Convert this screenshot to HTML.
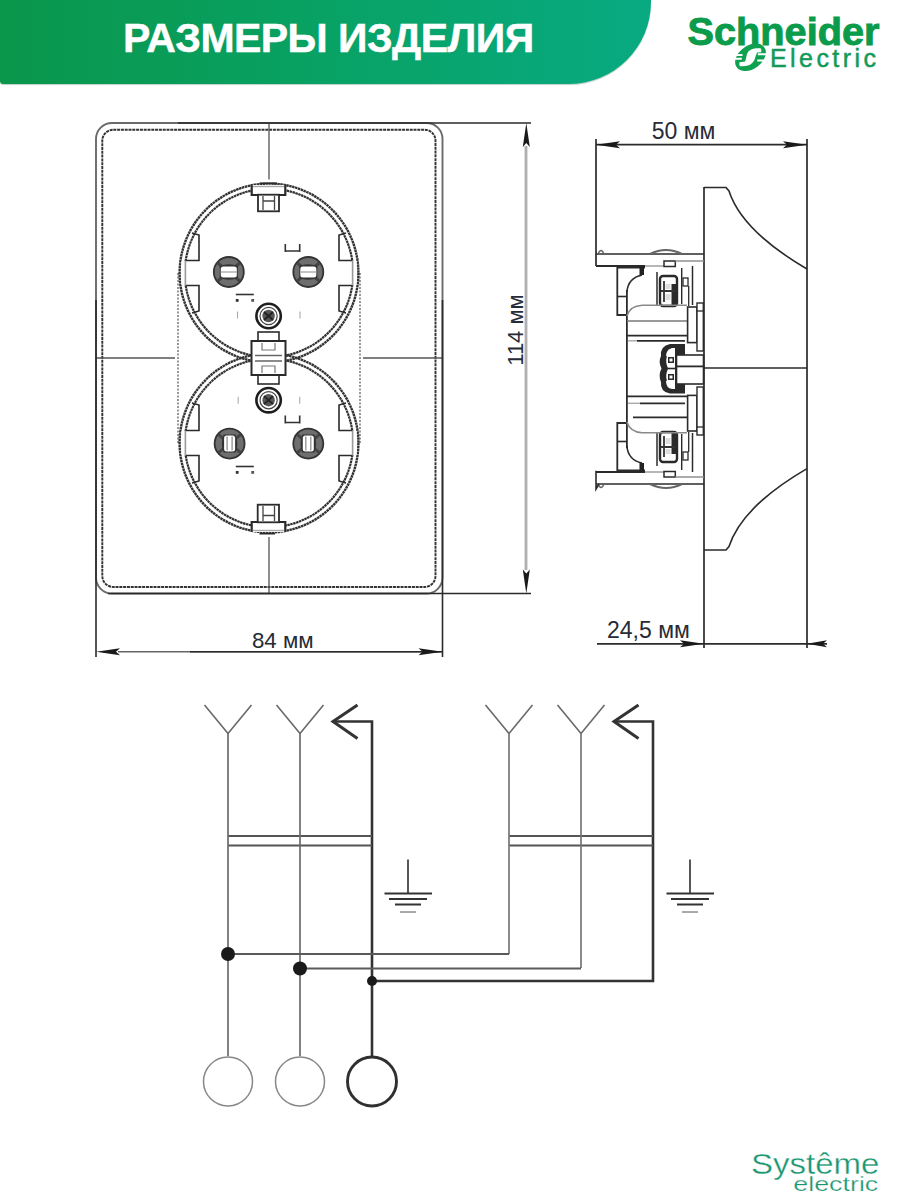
<!DOCTYPE html>
<html><head><meta charset="utf-8">
<style>
html,body{margin:0;padding:0;background:#fff;}
body{width:900px;height:1200px;position:relative;overflow:hidden;font-family:"Liberation Sans",sans-serif;}
.banner{position:absolute;left:0;top:0;width:651px;height:84px;border-bottom-right-radius:82px;border-bottom-left-radius:3px;
background:linear-gradient(90deg,#0a964b 0%,#08a264 50%,#08aa82 100%);box-shadow:0 1px 1px rgba(0,60,30,0.25);}
.banner span{position:absolute;left:123px;top:13.3px;font-family:"Liberation Sans",sans-serif;font-weight:bold;font-size:41px;line-height:50px;color:#fff;white-space:nowrap;letter-spacing:-0.55px;-webkit-text-stroke:0.45px #fff;}
svg{position:absolute;left:0;top:0;}
</style></head>
<body>
<div class="banner"><span>РАЗМЕРЫ ИЗДЕЛИЯ</span></div>
<svg width="900" height="1200" viewBox="0 0 900 1200">
<g id="front"><rect x="96" y="123" width="346.5" height="470.5" rx="16" ry="16" fill="none" stroke="#6a6a6a" stroke-width="1.9"/><rect x="102.3" y="129.7" width="333.2" height="457.3" rx="11" ry="11" fill="none" stroke="#333" stroke-width="1.9" stroke-dasharray="3 0.8"/><path d="M269 123V179.5 M269 537V593 M96 358H175 M363 358H442" stroke="#555" stroke-width="1.3" fill="none"/><path d="M178 273V443 M360 273V443" stroke="#444" stroke-width="1.1" stroke-dasharray="2 1.5" fill="none"/><circle cx="269" cy="273" r="89.4" fill="none" stroke="#333" stroke-width="2.4" stroke-dasharray="2.5 0.5"/><circle cx="269" cy="273" r="84.2" fill="none" stroke="#333" stroke-width="2.2" stroke-dasharray="2.5 0.5"/><circle cx="269" cy="443" r="89.4" fill="none" stroke="#333" stroke-width="2.4" stroke-dasharray="2.5 0.5"/><circle cx="269" cy="443" r="84.2" fill="none" stroke="#333" stroke-width="2.2" stroke-dasharray="2.5 0.5"/><rect x="181.4" y="261" width="6" height="24" fill="#fff"/><path d="M192 233 L199 235 L199 260.5 L185.5 260.5 M185.5 285.5 L199 285.5 L199 311 L192 313" fill="none" stroke="#2a2a2a" stroke-width="1.6"/><path d="M185.4 260.5V285.5" stroke="#999" stroke-width="1.6"/><rect x="350.6" y="261" width="6" height="24" fill="#fff"/><path d="M346 233 L339 235 L339 260.5 L352.5 260.5 M352.5 285.5 L339 285.5 L339 311 L346 313" fill="none" stroke="#2a2a2a" stroke-width="1.6"/><path d="M352.6 260.5V285.5" stroke="#999" stroke-width="1.6"/><rect x="181.4" y="431" width="6" height="24" fill="#fff"/><path d="M192 403 L199 405 L199 430.5 L185.5 430.5 M185.5 455.5 L199 455.5 L199 481 L192 483" fill="none" stroke="#2a2a2a" stroke-width="1.6"/><path d="M185.4 430.5V455.5" stroke="#999" stroke-width="1.6"/><rect x="350.6" y="431" width="6" height="24" fill="#fff"/><path d="M346 403 L339 405 L339 430.5 L352.5 430.5 M352.5 455.5 L339 455.5 L339 481 L346 483" fill="none" stroke="#2a2a2a" stroke-width="1.6"/><path d="M352.6 430.5V455.5" stroke="#999" stroke-width="1.6"/><rect x="258" y="332" width="21" height="52" fill="#fff" stroke="#2b2b2b" stroke-width="1.6"/><rect x="251.5" y="341" width="34" height="34" fill="#fff" stroke="#2b2b2b" stroke-width="2"/><path d="M255 355.5H282 M255 361H282" stroke="#666" stroke-width="1.3"/><path d="M262 343V350H275V343 M262 373V366H275V373" stroke="#777" stroke-width="1.2" fill="none"/><rect x="251.5" y="185" width="34" height="10" fill="#fff" stroke="none"/><path d="M251.7 185V195H285.3V185" fill="none" stroke="#2a2a2a" stroke-width="2.2"/><path d="M253 186.5H284" stroke="#aaa" stroke-width="1.4"/><path d="M259.5 183.3H277" stroke="#2b2b2b" stroke-width="1.6"/><rect x="258" y="194.7" width="21" height="16.6" fill="#fff" stroke="#2b2b2b" stroke-width="1.8"/><path d="M263 196V210 M274.5 196V210 M263 201H274.5" stroke="#444" stroke-width="1.3" fill="none"/><rect x="251.5" y="522" width="34" height="10" fill="#fff" stroke="none"/><path d="M251.7 532V522H285.3V532" fill="none" stroke="#2a2a2a" stroke-width="2.2"/><path d="M253 530.5H284" stroke="#aaa" stroke-width="1.4"/><path d="M259.5 533.7H275" stroke="#2b2b2b" stroke-width="1.6"/><rect x="257.7" y="504.7" width="21.3" height="17.6" fill="#fff" stroke="#2b2b2b" stroke-width="1.8"/><path d="M263 506V521 M274.5 506V521 M263 515.5H274.5" stroke="#444" stroke-width="1.3" fill="none"/><circle cx="228.8" cy="272" r="15" fill="#6e6e6e" stroke="#333" stroke-width="1.8"/><path d="M217.8 263 L239.8 281 M217.8 281 L239.8 263" stroke="#444" stroke-width="3"/><path d="M219.8 266 Q228.8 262.5 237.8 266 V278 Q228.8 281.5 219.8 278Z" fill="#333"/><rect x="220.8" y="266.5" width="16" height="11" rx="2.5" fill="#fff"/><path d="M220.8 272H236.8" stroke="#b5b5b5" stroke-width="1.6"/><circle cx="308.3" cy="272" r="15" fill="#6e6e6e" stroke="#333" stroke-width="1.8"/><path d="M297.3 263 L319.3 281 M297.3 281 L319.3 263" stroke="#444" stroke-width="3"/><path d="M299.3 266 Q308.3 262.5 317.3 266 V278 Q308.3 281.5 299.3 278Z" fill="#333"/><rect x="300.3" y="266.5" width="16" height="11" rx="2.5" fill="#fff"/><path d="M300.3 272H316.3" stroke="#b5b5b5" stroke-width="1.6"/><circle cx="229.6" cy="443.6" r="15" fill="#6e6e6e" stroke="#333" stroke-width="1.8"/><path d="M218.6 434.6 L240.6 452.6 M218.6 452.6 L240.6 434.6" stroke="#444" stroke-width="3"/><path d="M223.6 434.6 Q220.1 443.6 223.6 452.6 H235.6 Q239.1 443.6 235.6 434.6Z" fill="#333"/><rect x="224.1" y="435.6" width="11" height="16" rx="2.5" fill="#fff"/><path d="M227.1 436.6V450.6 M232.1 436.6V450.6" stroke="#999" stroke-width="1.4"/><circle cx="308.3" cy="443.6" r="15" fill="#6e6e6e" stroke="#333" stroke-width="1.8"/><path d="M297.3 434.6 L319.3 452.6 M297.3 452.6 L319.3 434.6" stroke="#444" stroke-width="3"/><path d="M302.3 434.6 Q298.8 443.6 302.3 452.6 H314.3 Q317.8 443.6 314.3 434.6Z" fill="#333"/><rect x="302.8" y="435.6" width="11" height="16" rx="2.5" fill="#fff"/><path d="M305.8 436.6V450.6 M310.8 436.6V450.6" stroke="#999" stroke-width="1.4"/><circle cx="268.6" cy="316" r="12.2" fill="#fff" stroke="#1e1e1e" stroke-width="2.6"/><circle cx="268.6" cy="316" r="8.6" fill="#fff" stroke="#444" stroke-width="1.2"/><circle cx="268.6" cy="316" r="6.2" fill="#555"/><path d="M264 312 L273 320 M264 320 L273 312" stroke="#222" stroke-width="1.8"/><circle cx="268.6" cy="400.2" r="12.2" fill="#fff" stroke="#1e1e1e" stroke-width="2.6"/><circle cx="268.6" cy="400.2" r="8.6" fill="#fff" stroke="#444" stroke-width="1.2"/><circle cx="268.6" cy="400.2" r="6.2" fill="#555"/><path d="M264 396.2 L273 404.2 M264 404.2 L273 396.2" stroke="#222" stroke-width="1.8"/><path d="M284.5 251H300.5 M285.3 252V244 M299.7 252V244" stroke="#333" stroke-width="1.6" fill="none"/><path d="M235.8 294.5H253.8" stroke="#333" stroke-width="1.6" fill="none"/><rect x="235.8" y="299.0" width="2.8" height="2.8" fill="#333"/><rect x="251.3" y="299.0" width="2.8" height="2.8" fill="#555"/><path d="M284.5 422.5H300.5 M285.3 423.5V415.5 M299.7 423.5V415.5" stroke="#333" stroke-width="1.6" fill="none"/><path d="M235.8 466.5H253.8" stroke="#333" stroke-width="1.6" fill="none"/><rect x="235.8" y="471.0" width="2.8" height="2.8" fill="#333"/><rect x="251.3" y="471.0" width="2.8" height="2.8" fill="#555"/><path d="M237.5 311.5V318.5" stroke="#aaa" stroke-width="1.1"/><path d="M300 311.5V318.5" stroke="#aaa" stroke-width="1.1"/><path d="M238.2 396.7V403.7" stroke="#aaa" stroke-width="1.1"/><path d="M299.7 396.7V403.7" stroke="#aaa" stroke-width="1.1"/><path d="M178 123H531 M108 593.5H531" stroke="#2b2b2b" stroke-width="1.6"/><path d="M526 146V570" stroke="#b0b0b0" stroke-width="2.8"/><polygon points="526.3,123 522.8,147 526.3,143 529.8,147" fill="#1a1a1a"/><polygon points="526.3,593.5 522.8,569.5 526.3,573.5 529.8,569.5" fill="#1a1a1a"/><path d="M96 300V657 M442.5 300V657" stroke="#2b2b2b" stroke-width="1.6"/><path d="M118 651.7H442" stroke="#666" stroke-width="1.6"/><path d="M190 651.7H442" stroke="#2b2b2b" stroke-width="1.6"/><polygon points="96,651.7 120,648.2 116,651.7 120,655.2" fill="#1a1a1a"/><polygon points="442.5,651.7 418.5,648.2 422.5,651.7 418.5,655.2" fill="#1a1a1a"/><text x="282.8" y="648" font-size="22.3" text-anchor="middle" fill="#262b36" font-family="Liberation Sans, sans-serif">84 мм</text><text x="0" y="0" font-size="22" text-anchor="middle" fill="#262b36" font-family="Liberation Sans, sans-serif" transform="translate(523 330) rotate(-90)">114 мм</text></g>
<g id="side"><path d="M596 139V266 M807 139V648 M704 187V648" stroke="#2b2b2b" stroke-width="1.7" fill="none"/><path d="M596 144.7H807" stroke="#2b2b2b" stroke-width="1.7"/><polygon points="596,144.7 620,141.2 616,144.7 620,148.2" fill="#1a1a1a"/><polygon points="807,144.7 783,141.2 787,144.7 783,148.2" fill="#1a1a1a"/><text x="683.5" y="139" font-size="23" text-anchor="middle" fill="#262b36" font-family="Liberation Sans, sans-serif">50 мм</text><path d="M704 187.5H726 L729 191 Q742 231 807 269" fill="none" stroke="#2b2b2b" stroke-width="1.6"/><path d="M704 550H726 L729 546.5 Q742 506.5 807 468.6" fill="none" stroke="#2b2b2b" stroke-width="1.6"/><path d="M704 368H807" stroke="#2b2b2b" stroke-width="1.3"/><path d="M597 643.8H827" stroke="#2b2b2b" stroke-width="1.7"/><polygon points="704,643.8 680,640.3 684,643.8 680,647.3" fill="#1a1a1a"/><polygon points="807,643.8 827,640.3 823,643.8 827,647.3" fill="#1a1a1a"/><text x="607" y="638" font-size="23" fill="#262b36" font-family="Liberation Sans, sans-serif">24,5 мм</text><path d="M596 254H704" fill="none" stroke="#2b2b2b" stroke-width="1.6"/><path d="M596 266H645" fill="none" stroke="#2b2b2b" stroke-width="1.8"/><path d="M645 266H664" fill="none" stroke="#999" stroke-width="1.4"/><rect x="664" y="261" width="11.3" height="5.5" fill="#fff" stroke="#2b2b2b" stroke-width="1.5"/><path d="M675 261H704" fill="none" stroke="#888" stroke-width="1.4"/><path d="M650 254 Q666 246 682 254" fill="none" stroke="#666" stroke-width="2.2"/><path d="M598 254 Q601 247 604 254" fill="none" stroke="#666" stroke-width="1.5"/><path d="M645 267.5H617.3V315H626.9" fill="none" stroke="#2b2b2b" stroke-width="1.8"/><path d="M617.3 296.5H626.9" fill="none" stroke="#2b2b2b" stroke-width="1.6"/><rect x="639.5" y="266" width="4.5" height="9" fill="#222"/><path d="M642 275 Q628 278 626.9 292" fill="none" stroke="#2b2b2b" stroke-width="1.6"/><path d="M626.9 290V369" fill="none" stroke="#2b2b2b" stroke-width="1.8"/><path d="M657 272V306" fill="none" stroke="#2b2b2b" stroke-width="1.5"/><rect x="660" y="276" width="17" height="30" rx="3" fill="#fff" stroke="#2a2a2a" stroke-width="2.4"/><path d="M671.5 284H677.5V306H671.5Z" fill="#2a2a2a"/><path d="M661 291H676 M664 281V302" stroke="#333" stroke-width="1.8" fill="none"/><rect x="665.5" y="284" width="5" height="5" fill="#ddd"/><rect x="665.5" y="294" width="5" height="6" fill="#ddd"/><path d="M681.7 268V304" fill="none" stroke="#2b2b2b" stroke-width="1.4"/><rect x="683" y="278" width="5" height="8" fill="#fff" stroke="#2b2b2b" stroke-width="1.3"/><path d="M688.7 286V306" fill="none" stroke="#2b2b2b" stroke-width="1.3"/><path d="M692.5 266V305" fill="none" stroke="#2b2b2b" stroke-width="1.5"/><path d="M626.9 316 Q630 306 642 305.3H687" fill="none" stroke="#8a8a8a" stroke-width="1.6"/><path d="M627.5 321H687" fill="none" stroke="#9a9a9a" stroke-width="1.8"/><path d="M627 335.6H687.6" fill="none" stroke="#2b2b2b" stroke-width="1.8"/><path d="M628 340.8H637" fill="none" stroke="#aaa" stroke-width="1.4"/><path d="M637 340.8H685" fill="none" stroke="#2b2b2b" stroke-width="1.8"/><rect x="687.6" y="307" width="9.4" height="35.6" fill="#fff" stroke="#2b2b2b" stroke-width="1.6"/><rect x="697" y="303" width="6.3" height="48" fill="#fff" stroke="#2b2b2b" stroke-width="1.4"/><path d="M697 311H703.3" fill="none" stroke="#2b2b2b" stroke-width="1.3"/><path d="M596 484H704" fill="none" stroke="#2b2b2b" stroke-width="1.6"/><path d="M596 472H645" fill="none" stroke="#2b2b2b" stroke-width="1.8"/><path d="M645 472H664" fill="none" stroke="#999" stroke-width="1.4"/><rect x="664" y="471.5" width="11.3" height="5.5" fill="#fff" stroke="#2b2b2b" stroke-width="1.5"/><path d="M675 477H704" fill="none" stroke="#888" stroke-width="1.4"/><path d="M650 484 Q666 492 682 484" fill="none" stroke="#666" stroke-width="2.2"/><path d="M598 484 Q601 491 604 484" fill="none" stroke="#666" stroke-width="1.5"/><path d="M645 470.5H617.3V423H626.9" fill="none" stroke="#2b2b2b" stroke-width="1.8"/><path d="M617.3 441.5H626.9" fill="none" stroke="#2b2b2b" stroke-width="1.6"/><rect x="639.5" y="463" width="4.5" height="9" fill="#222"/><path d="M642 463 Q628 460 626.9 446" fill="none" stroke="#2b2b2b" stroke-width="1.6"/><path d="M626.9 448V369" fill="none" stroke="#2b2b2b" stroke-width="1.8"/><path d="M657 466V432" fill="none" stroke="#2b2b2b" stroke-width="1.5"/><rect x="660" y="432" width="17" height="30" rx="3" fill="#fff" stroke="#2a2a2a" stroke-width="2.4"/><path d="M671.5 454H677.5V432H671.5Z" fill="#2a2a2a"/><path d="M661 447H676 M664 457V436" stroke="#333" stroke-width="1.8" fill="none"/><rect x="665.5" y="449" width="5" height="5" fill="#ddd"/><rect x="665.5" y="438" width="5" height="6" fill="#ddd"/><path d="M681.7 470V434" fill="none" stroke="#2b2b2b" stroke-width="1.4"/><rect x="683" y="452" width="5" height="8" fill="#fff" stroke="#2b2b2b" stroke-width="1.3"/><path d="M688.7 452V432" fill="none" stroke="#2b2b2b" stroke-width="1.3"/><path d="M692.5 472V433" fill="none" stroke="#2b2b2b" stroke-width="1.5"/><path d="M626.9 422 Q630 432 642 432.7H687" fill="none" stroke="#8a8a8a" stroke-width="1.6"/><path d="M633 417.3H687" fill="none" stroke="#2b2b2b" stroke-width="1.7"/><path d="M627 396.3H687.6" fill="none" stroke="#2b2b2b" stroke-width="1.8"/><path d="M628 403.3H640" fill="none" stroke="#aaa" stroke-width="1.4"/><path d="M640 403.3H685" fill="none" stroke="#2b2b2b" stroke-width="1.8"/><rect x="687.6" y="395.4" width="9.4" height="35.6" fill="#fff" stroke="#2b2b2b" stroke-width="1.6"/><rect x="697" y="387" width="6.3" height="48" fill="#fff" stroke="#2b2b2b" stroke-width="1.4"/><path d="M697 427H703.3" fill="none" stroke="#2b2b2b" stroke-width="1.3"/><path d="M596 470.7V489 L599 484" fill="none" stroke="#2b2b2b" stroke-width="1.6"/><path d="M670 344 Q660 346 661 356 Q658 362 661.5 368.5 Q658 375 661 382 Q660 392 670 393.5 H685 V344Z" fill="#2a2a2a"/><path d="M672 348 Q666 350 666 356 V381 Q666 388 672 389 H675 V348Z" fill="#fff" stroke="none"/><path d="M666 356 Q664 362 667 368.5 Q664 375 666 381" fill="none" stroke="#2a2a2a" stroke-width="2"/><path d="M668 357H674V363H668Z M668 374H674V380H668Z" fill="#2a2a2a"/><path d="M669.5 358.5H672.5V361.5H669.5Z M669.5 375.5H672.5V378.5H669.5Z" fill="#fff"/><rect x="676.5" y="355" width="27" height="11.5" fill="#fff" stroke="#2b2b2b" stroke-width="1.6"/><rect x="676.5" y="366.5" width="27" height="17.5" fill="#fff" stroke="#2b2b2b" stroke-width="1.6"/><path d="M666 368.5H675" stroke="#2a2a2a" stroke-width="1.6"/></g>
<g id="schem"><path d="M204.5 705L228 733.5L251.5 705" fill="none" stroke="#6a6a6a" stroke-width="1.6"/><path d="M276.5 705L300 733.5L323.5 705" fill="none" stroke="#6a6a6a" stroke-width="1.6"/><path d="M357.5 705L333 721.5L357.5 738.5" fill="none" stroke="#333" stroke-width="3"/><path d="M333 721.5H372V1056" fill="none" stroke="#333" stroke-width="2.6"/><path d="M228 836H372 M228 845.5H372" stroke="#555" stroke-width="2.2"/><path d="M408 859.5V893.5" stroke="#444" stroke-width="1.8"/><path d="M384.5 893.5H432 M389 899H427 M395 904.5H421" stroke="#333" stroke-width="2"/><path d="M400 912H416" stroke="#aaa" stroke-width="2"/><path d="M485.5 705L509 733.5L532.5 705" fill="none" stroke="#6a6a6a" stroke-width="1.6"/><path d="M557.5 705L581 733.5L604.5 705" fill="none" stroke="#6a6a6a" stroke-width="1.6"/><path d="M638.5 705L614 721.5L638.5 738.5" fill="none" stroke="#333" stroke-width="3"/><path d="M614 721.5H653V981H372" fill="none" stroke="#333" stroke-width="2.6"/><path d="M509 836H653 M509 845.5H653" stroke="#555" stroke-width="2.2"/><path d="M690 859.5V893.5" stroke="#444" stroke-width="1.8"/><path d="M666.5 893.5H714 M671 899H709 M677 904.5H703" stroke="#333" stroke-width="2"/><path d="M682 912H698" stroke="#aaa" stroke-width="2"/><path d="M228 733.5V1056 M300 733.5V1056" stroke="#6c6c6c" stroke-width="1.7"/><path d="M509 733.5V954 M581 733.5V968" stroke="#777" stroke-width="1.7"/><path d="M228 954H509 M300 968.5H581" stroke="#5a5a5a" stroke-width="1.8"/><circle cx="228" cy="954" r="7" fill="#1a1a1a"/><circle cx="300" cy="968.5" r="7" fill="#1a1a1a"/><circle cx="372" cy="981" r="5" fill="#1a1a1a"/><circle cx="228" cy="1081.5" r="24.5" fill="none" stroke="#888" stroke-width="1.5"/><circle cx="300" cy="1081.5" r="24.5" fill="none" stroke="#888" stroke-width="1.5"/><circle cx="372" cy="1081.5" r="24.5" fill="none" stroke="#303030" stroke-width="2.9"/></g>
<g id="logo">
<text x="687.5" y="45.3" font-family="Liberation Sans, sans-serif" font-weight="bold" font-size="38.5" fill="#0a9b4b" stroke="#0a9b4b" stroke-width="0.9" textLength="192" lengthAdjust="spacingAndGlyphs">Schneider</text>
<text x="770" y="67" font-family="Liberation Sans, sans-serif" font-size="25" fill="#139a5a" stroke="#139a5a" stroke-width="0.5" textLength="106" lengthAdjust="spacing">Electric</text>
<ellipse cx="750.5" cy="57.3" rx="17" ry="11.6" transform="rotate(-36 750.5 57.3)" fill="#0ea150"/>
<path d="M748.3 51.6 Q750.5 48.8 756 48.2 L760.5 48.3 Q762 50 761.2 52.3 L757 52.5 Q755.6 56 754.6 59.8 Q752.8 63.2 749.6 65 Q746 66.4 739.8 66.2 Q738.8 64.5 739.6 62.2 L745.2 61.4 Q746.3 57 747 54 Z" fill="#fff"/>
<path d="M734 54.9H742.5 M734 58.7H741.8 M757.8 54.3H767 M757.2 60.4H767" stroke="#fff" stroke-width="2"/>
</g>
<g id="se">
<text x="751" y="1174" font-family="Liberation Sans, sans-serif" font-size="29.5" fill="#1a9670" stroke="#fff" stroke-width="0.35" textLength="128.5" lengthAdjust="spacingAndGlyphs">Systême</text>
<text x="793.3" y="1191.4" font-family="Liberation Sans, sans-serif" font-size="19.5" fill="#1a9670" stroke="#fff" stroke-width="0.25" textLength="85" lengthAdjust="spacingAndGlyphs">electric</text>
</g>
</svg>
</body></html>
